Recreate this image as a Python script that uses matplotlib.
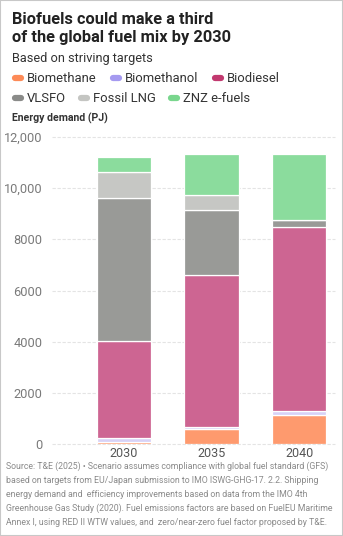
import matplotlib
matplotlib.use("Agg")
from matplotlib import pyplot as plt
from matplotlib.lines import Line2D
from matplotlib.patches import Rectangle
import numpy as np

years = ["2030", "2035", "2040"]
series_names = ["Biomethane", "Biomethanol", "Biodiesel", "VLSFO", "Fossil LNG", "ZNZ e-fuels"]
biomethane = [90, 575, 1150]
biomethanol = [130, 100, 140]
biodiesel = [3820, 5920, 7200]
vlsfo = [5590, 2550, 260]
fossil_lng = [1015, 590, 0]
znz_efuels = [560, 1590, 2590]
yticks = [0, 2000, 4000, 6000, 8000, 10000, 12000]
ytick_labels = ["0", "2000", "4000", "6000", "8000", "10,000", "12,000"]

bar_colors = ["#fe9a6e", "#d8d2f6", "#cd6592", "#999a97", "#c6c7c4", "#8bdc9d"]
legend_colors = ["#fd8a57", "#a59af0", "#c2396f", "#8a8b89", "#c4c5c2", "#79d68d"]

W, H = 343, 536
plt.rcParams['font.family'] = ['Roboto', 'DejaVu Sans']
fig = plt.figure(figsize=(W / 100, H / 100), dpi=100)


def fx(px):
    return px / W


def fy(py):
    return 1 - py / H


# border
fig.add_artist(Rectangle((0, 0), 1, 1, transform=fig.transFigure, fill=False,
                         edgecolor="#c8c8c8", linewidth=1.5))

# title block
fig.text(fx(12), fy(23.5), "Biofuels could make a third", fontsize=11.8, fontweight="bold",
         color="#222222", va="baseline")
fig.text(fx(12), fy(42), "of the global fuel mix by 2030", fontsize=11.8, fontweight="bold",
         color="#222222", va="baseline")
fig.text(fx(12), fy(61.8), "Based on striving targets", fontsize=9.2, color="#333333", va="baseline")

# legend
legend_pos = [(12, 78), (110, 78), (212, 78), (12, 98), (78, 98), (168, 98)]
for name, col, (lx, ly) in zip(series_names, legend_colors, legend_pos):
    fig.add_artist(Line2D([fx(lx + 3), fx(lx + 9)], [fy(ly), fy(ly)], transform=fig.transFigure,
                          color=col, linewidth=4.5, solid_capstyle="round"))
    fig.text(fx(lx + 15), fy(ly), name, fontsize=9.4, color="#333333", va="center")

fig.text(fx(12), fy(118), "Energy demand (PJ)", fontsize=7.6, fontweight="bold",
         color="#333333", va="center")

# chart
ax = fig.add_axes([fx(52), fy(444), fx(335 - 52), (444 - 137) / H])
data = np.array([biomethane, biomethanol, biodiesel, vlsfo, fossil_lng, znz_efuels])
x = np.arange(len(years))
bottom = np.zeros(len(years))
for vals, col in zip(data, bar_colors):
    ax.bar(x, vals, bottom=bottom, width=0.62, color=col, edgecolor="white", linewidth=0.9, zorder=3)
    bottom += vals

ax.set_xlim(-0.82, 2.41)
ax.set_ylim(0, 12000)
for t in yticks:
    ax.axhline(t, color="#e4e4e4", linewidth=0.8, linestyle=(0, (3, 1.5)), zorder=1, clip_on=False)
ax.set_yticks(yticks)
ax.set_yticklabels(ytick_labels)
ax.set_xticks(x)
ax.set_xticklabels(years)
ax.tick_params(axis="y", length=0, pad=7, labelsize=9.2, labelcolor="#7a7a7a")
ax.tick_params(axis="x", length=0, pad=2.5, labelsize=9, labelcolor="#555555")
for s in ax.spines.values():
    s.set_visible(False)
ax.patch.set_alpha(0)

# footer
footer = [
    "Source: T&E (2025) \u2022 Scenario assumes compliance with global fuel standard (GFS)",
    "based on targets from EU/Japan submission to IMO ISWG-GHG-17. 2.2. Shipping",
    "energy demand and  efficiency improvements based on data from the IMO 4th",
    "Greenhouse Gas Study (2020). Fuel emissions factors are based on FuelEU Maritime",
    "Annex I, using RED II WTW values, and  zero/near-zero fuel factor proposed by T&E.",
]
for i, line in enumerate(footer):
    fig.text(fx(6), fy(466 + i * 14.2), line, fontsize=6.3, color="#8a8a8a", va="center")

fig.savefig("out.png", dpi=100)
